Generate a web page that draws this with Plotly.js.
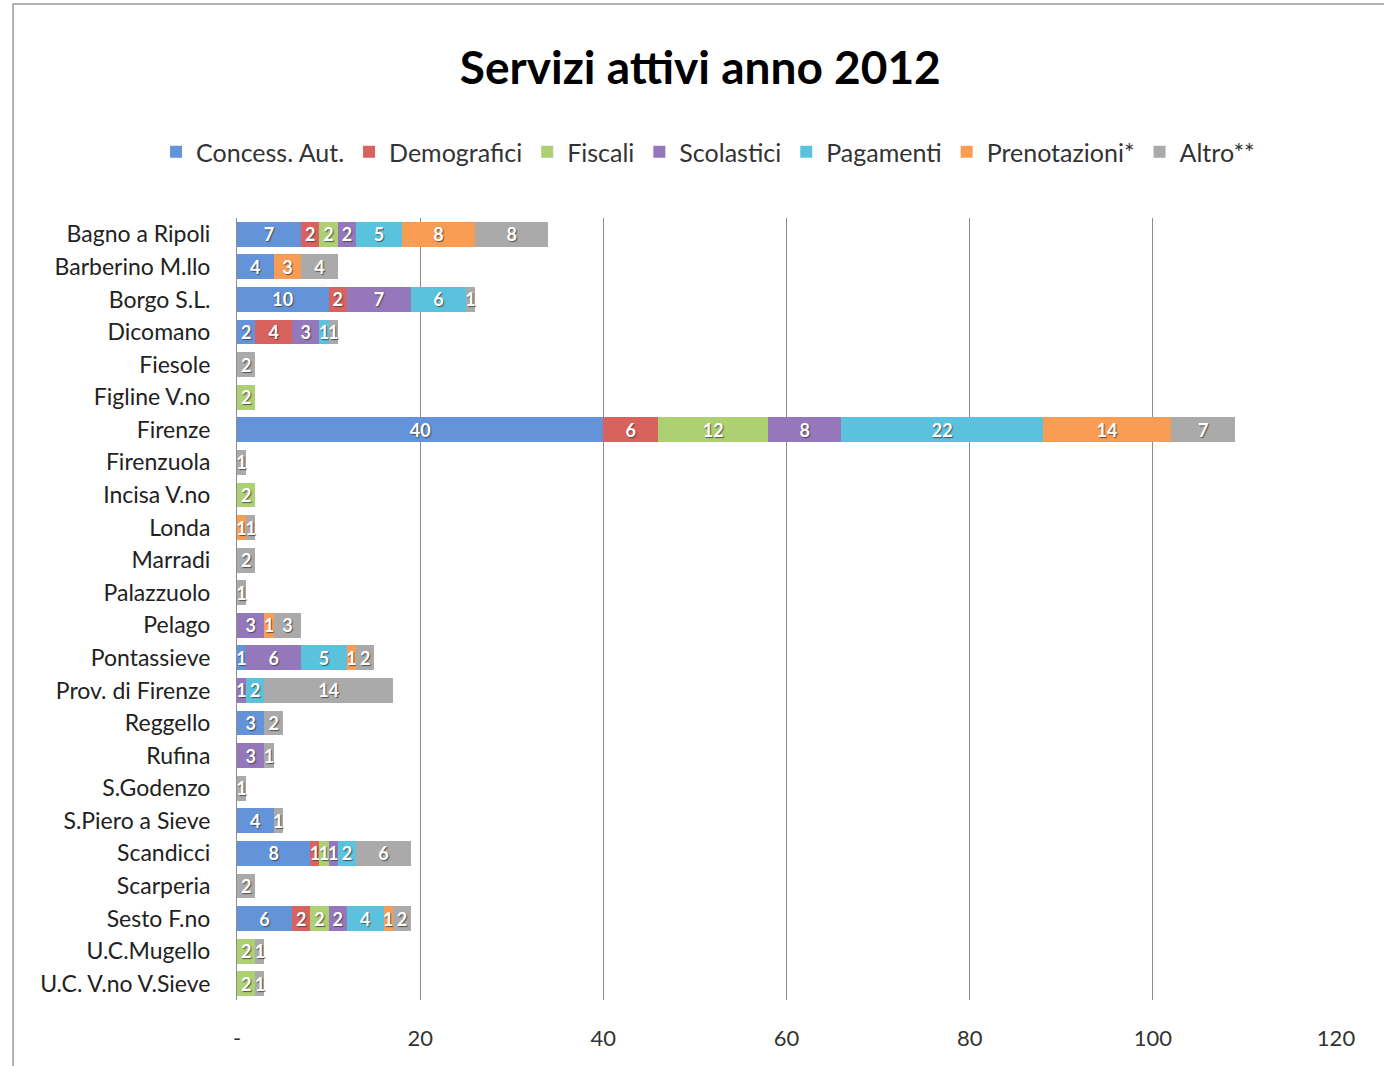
<!DOCTYPE html>
<html>
<head>
<meta charset="utf-8">
<script src="https://cdn.plot.ly/plotly-3.0.1.min.js"></script>
<style>html,body{margin:0;padding:0;background:#fff;}</style>
</head>
<body>
<div id="chart" style="width:1384px;height:1066px;"></div>
<script>
const categories = ["Bagno a Ripoli","Barberino M.llo","Borgo S.L.","Dicomano","Fiesole","Figline V.no","Firenze","Firenzuola","Incisa V.no","Londa","Marradi","Palazzuolo","Pelago","Pontassieve","Prov. di Firenze","Reggello","Rufina","S.Godenzo","S.Piero a Sieve","Scandicci","Scarperia","Sesto F.no","U.C.Mugello","U.C. V.no V.Sieve"];

const concessAut   = [7, 4, 10, 2, null, null, 40, null, null, null, null, null, null, 1, null, 3, null, null, 4, 8, null, 6, null, null];
const demografici  = [2, null, 2, 4, null, null, 6, null, null, null, null, null, null, null, null, null, null, null, null, 1, null, 2, null, null];
const fiscali      = [2, null, null, null, null, 2, 12, null, 2, null, null, null, null, null, null, null, null, null, null, 1, null, 2, 2, 2];
const scolastici   = [2, null, 7, 3, null, null, 8, null, null, null, null, null, 3, 6, 1, null, 3, null, null, 1, null, 2, null, null];
const pagamenti    = [5, null, 6, 1, null, null, 22, null, null, null, null, null, null, 5, 2, null, null, null, null, 2, null, 4, null, null];
const prenotazioni = [8, 3, null, null, null, null, 14, null, null, 1, null, null, 1, 1, null, null, null, null, null, null, null, 1, null, null];
const altro        = [8, 4, 1, 1, 2, null, 7, 1, null, 1, 2, 1, 3, 2, 14, 2, 1, 1, 1, 6, 2, 2, 1, 1];

const seriesNames = ["Concess. Aut.","Demografici","Fiscali","Scolastici","Pagamenti","Prenotazioni*","Altro**"];
const seriesValues = [concessAut, demografici, fiscali, scolastici, pagamenti, prenotazioni, altro];
const seriesColors = ["#6393d8","#d8625e","#add072","#9577bc","#5ac2dd","#f99d55","#aaaaaa"];

const xTickVals = [0, 20, 40, 60, 80, 100, 120];
const xTickText = ["-", "20", "40", "60", "80", "100", "120"];

const FONT = "Lato, 'Open Sans', sans-serif";

const traces = seriesNames.map((name, i) => ({
  type: 'bar',
  orientation: 'h',
  name: name,
  y: categories,
  x: seriesValues[i],
  marker: {color: seriesColors[i], line: {width: 0}},
  texttemplate: '%{x}',
  textposition: 'inside',
  insidetextanchor: 'middle',
  textangle: 0,
  constraintext: 'none',
  cliponaxis: false,
  textfont: {family: FONT, size: 18, color: '#ffffff', weight: 'bold', shadow: '1px 1px 1px rgba(60,60,60,0.8)'},
  hoverinfo: 'x+y+name'
}));

const layout = {
  width: 1384,
  height: 1066,
  margin: {l: 237, r: 48, t: 218, b: 66},
  paper_bgcolor: '#ffffff',
  plot_bgcolor: '#ffffff',
  barmode: 'stack',
  bargap: 0.24,
  title: {
    text: '<b>Servizi attivi anno 2012</b>',
    font: {family: FONT, size: 46, color: '#000000'},
    x: 0.506, xanchor: 'center', xref: 'container',
    y: 0.936, yanchor: 'middle', yref: 'container'
  },
  showlegend: true,
  legend: {
    orientation: 'h',
    xref: 'container', yref: 'container',
    x: 0.5116, xanchor: 'center',
    y: 0.8574, yanchor: 'middle',
    font: {family: FONT, size: 25, color: '#333333'},
    traceorder: 'normal',
    itemwidth: 30,
    bgcolor: 'rgba(0,0,0,0)'
  },
  xaxis: {
    range: [0, 120],
    tickvals: xTickVals,
    ticktext: xTickText,
    showgrid: true,
    gridcolor: '#8c8c8c',
    gridwidth: 1,
    zeroline: false,
    showline: false,
    ticks: '',
    ticklabelstandoff: 23,
    tickfont: {family: FONT, size: 22, color: '#333333'},
    fixedrange: true
  },
  yaxis: {
    type: 'category',
    autorange: 'reversed',
    showgrid: false,
    zeroline: false,
    showline: true,
    linecolor: '#8c8c8c',
    linewidth: 1,
    ticks: '',
    ticklabelstandoff: 21,
    tickfont: {family: FONT, size: 23, color: '#222222'},
    fixedrange: true
  },
  shapes: [{
    type: 'rect', xref: 'paper', yref: 'paper',
    x0: -0.2038, x1: 1.2, y0: -0.2, y1: 1.2737,
    line: {color: '#9a9a9a', width: 1.5},
    fillcolor: 'rgba(0,0,0,0)',
    layer: 'below'
  }]
};

Plotly.newPlot('chart', traces, layout, {displayModeBar: false, staticPlot: true});
</script>
</body>
</html>
